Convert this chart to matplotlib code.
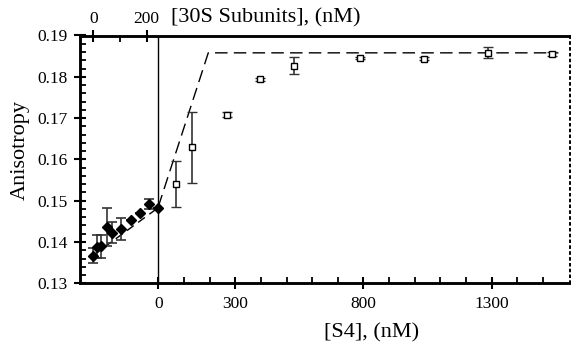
import matplotlib
matplotlib.use("Agg")
import matplotlib.pyplot as plt
from matplotlib.ticker import FixedLocator, MultipleLocator

plt.rcParams['font.family'] = ['Liberation Serif', 'DejaVu Serif']

# 30S subunit titration (top axis), filled diamonds
subunits_x = [0, 13, 28, 52, 69, 103, 141, 175, 209, 241]
subunits_y = [0.1367, 0.1389, 0.1390, 0.1437, 0.1423, 0.1432, 0.1453, 0.1471, 0.1492, 0.1482]
subunits_err = [0.0018, 0.0028, 0.0028, 0.0046, 0.0026, 0.0027, 0.0, 0.0, 0.0013, 0.0]

# S4 titration (bottom axis), open squares
s4_x = [69, 133, 269, 397, 530, 786, 1037, 1287, 1534]
s4_y = [0.1540, 0.1629, 0.1708, 0.1794, 0.1827, 0.1845, 0.1844, 0.1858, 0.1855]
s4_err = [0.0056, 0.0085, 0.0006, 0.0004, 0.0020, 0.0003, 0.0003, 0.0013, 0.0004]

# fitted dashed lines
fit_top_x = [0, 241]
fit_top_y = [0.1368, 0.1482]
fit_x = [0, 195, 1560]
fit_y = [0.1485, 0.1858, 0.1858]

bottom_major = [0, 300, 800, 1300]
bottom_minor = [100, 200, 400, 500, 600, 700, 900, 1000, 1100, 1200, 1400, 1500]
top_major = [0, 200]
top_minor = [100]

W, H = 571, 343
fig = plt.figure(figsize=(W / 100, H / 100), dpi=100)
L, R, T, B = 80, 570, 35.5, 283.3
ax = fig.add_axes([L / W, 1 - B / H, (R - L) / W, (B - T) / H])
ax.set_xlim(-305, 1605)
ax.set_ylim(0.13, 0.19)

ax2 = ax.twiny()
ax2.set_xlim(-50, -50 + (R - L) / 0.2667)

# dashed fits
ax.plot(fit_x, fit_y, color='black', lw=1.0, dashes=(9, 4.5))
ax2.plot(fit_top_x, fit_top_y, color='black', lw=1.0, dashes=(6, 4))

# vertical separator at S4 = 0
ax.axvline(0, color='black', lw=1.0)

# data
ax.errorbar(s4_x, s4_y, yerr=s4_err, fmt='s', ms=4, mfc='white', mec='black',
            mew=1.0, ecolor='#333333', elinewidth=1.2, capsize=3.5, capthick=1.2, zorder=5)
ax2.errorbar(subunits_x, subunits_y, yerr=subunits_err, fmt='D', ms=5, mfc='black',
             mec='black', ecolor='#333333', elinewidth=1.2, capsize=3.5, capthick=1.2, zorder=5)

# spines
for s in ['left', 'bottom', 'top']:
    ax.spines[s].set_linewidth(1.8)
    ax2.spines[s].set_linewidth(1.8)
ax.spines['right'].set_linestyle((0, (1, 2.5)))
ax.spines['right'].set_linewidth(1.2)
ax2.spines['right'].set_linestyle((0, (1, 2.5)))
ax2.spines['right'].set_linewidth(1.2)

# ticks
ax.xaxis.set_major_locator(FixedLocator(bottom_major))
ax.xaxis.set_minor_locator(FixedLocator(bottom_minor))
ax.set_xticklabels([str(v) for v in bottom_major])
ax.yaxis.set_major_locator(MultipleLocator(0.01))
ax.yaxis.set_minor_locator(MultipleLocator(0.002))
ax.set_yticklabels([f"{v:.2f}" for v in ax.get_yticks()])
ax.tick_params(axis='both', which='major', direction='inout', length=8, width=1.5,
               labelsize=12.5, pad=5)
ax.tick_params(axis='both', which='minor', direction='in', length=4, width=1.3)
ax.tick_params(axis='y', right=False, which='both')

ax2.xaxis.set_major_locator(FixedLocator(top_major))
ax2.xaxis.set_minor_locator(FixedLocator(top_minor))
ax2.set_xticklabels([str(v) for v in top_major])
ax2.tick_params(axis='x', which='major', direction='inout', length=8, width=1.5,
                labelsize=12.5, pad=2)
ax2.tick_params(axis='x', which='minor', direction='in', length=4, width=1.3)

ax.set_ylabel('Anisotropy', fontsize=16)
ax.yaxis.set_label_coords((20 - L) / (R - L), (B - 150) / (B - T))
ax.yaxis.label.set_va('center')
ax.set_xlabel('[S4], (nM)', fontsize=16)
ax.xaxis.set_label_coords((371.7 - L) / (R - L), (B - 333) / (B - T))
ax.xaxis.label.set_va('center')

fig.text(171 / W, 1 - 18 / H, '[30S Subunits], (nM)', fontsize=16, ha='left', va='center')

fig.savefig('out.png', dpi=100)
